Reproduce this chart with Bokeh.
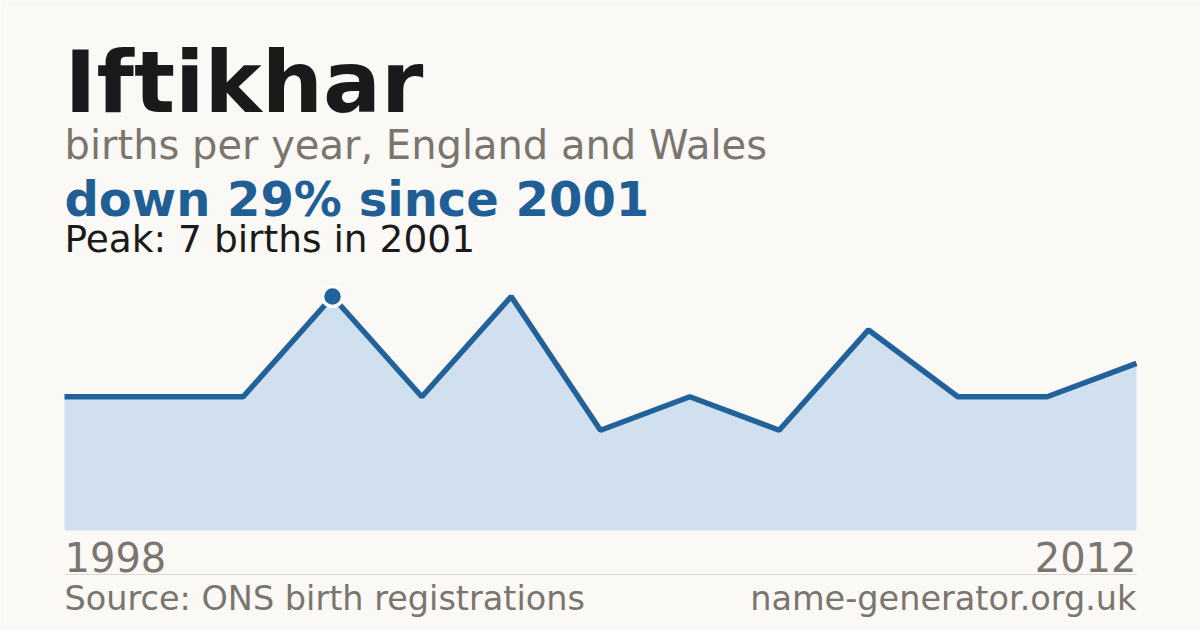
from bokeh.plotting import figure
from bokeh.models import Label, Range1d
from bokeh.embed import file_html
from bokeh.resources import INLINE

# ---- data ----
years = [1998, 1999, 2000, 2001, 2002, 2003, 2004, 2005, 2006, 2007, 2008, 2011, 2012]
births = [4, 4, 4, 7, 4, 7, 3, 4, 3, 6, 4, 4, 5]
title = "Iftikhar"
subtitle = "births per year, England and Wales"
change_text = "down 29% since 2001"
peak_text = "Peak: 7 births in 2001"
first_label = "1998"
last_label = "2012"
source_text = "Source: ONS birth registrations"
site_text = "name-generator.org.uk"

BG = "#faf9f5"
AREA = "#d0e0ef"
LINE = "#22629a"
DARK = "#1a1a1a"
GREY = "#7a756d"
BLUE = "#1f5f96"
FONT = "DejaVu Sans"

W, H = 1200, 630
idx = list(range(len(births)))
peak_i = births.index(max(births))

# pixel layout of plot region (from left / from bottom)
px_left, px_right = 64, 1136
py_base, py_peak = 100, 334
ux = (px_right - px_left) / (len(births) - 1)
uy = (py_peak - py_base) / max(births)

p = figure(width=W, height=H, output_backend="svg", toolbar_location=None,
           min_border=0, min_border_left=0, min_border_right=0,
           min_border_top=0, min_border_bottom=0,
           x_axis_location=None, y_axis_location=None,
           background_fill_color=BG, border_fill_color=BG,
           outline_line_color=None)
p.x_range = Range1d(-px_left / ux, (W - px_left) / ux)
p.y_range = Range1d(-py_base / uy, (H - py_base) / uy)
p.grid.visible = False

p.varea(x=idx, y1=[0] * len(births), y2=births, fill_color=AREA)
p.line(x=idx, y=births, line_color=LINE, line_width=5.5)
p.scatter(x=[idx[peak_i]], y=[births[peak_i]], size=20, fill_color=LINE,
          line_color="#ffffff", line_width=3.5)

K = 0.36  # baseline compensation for svg label placement

def lab(text, x, baseline_top, size, color, bold=False, align="left"):
    p.add_layout(Label(x=x, y=H - baseline_top + K * size,
                       x_units="screen", y_units="screen", text=text,
                       text_font=FONT, text_font_size=f"{size}px",
                       text_font_style="bold" if bold else "normal",
                       text_color=color, text_align=align,
                       text_baseline="alphabetic"))

lab(title, 64, 112, 86, DARK, bold=True)
lab(subtitle, 64, 158.5, 40, GREY)
lab(change_text, 64, 216, 48, BLUE, bold=True)
lab(peak_text, 64, 252, 37.5, DARK)
lab(first_label, 64, 571, 40, GREY)
lab(last_label, 1136, 571, 40, GREY, align="right")
lab(source_text, 64, 610, 33.5, GREY)
lab(site_text, 1136, 610, 33.5, GREY, align="right")

# separator line
p.line(x=[idx[0], idx[-1]], y=[(56 - py_base) / uy] * 2, line_color="#dcd9d2", line_width=1)

html = file_html(p, INLINE)
html = html.replace("<body>", f'<body style="background:{BG};margin:0;padding:0;overflow:hidden">', 1)
open("out.html", "w").write(html)
